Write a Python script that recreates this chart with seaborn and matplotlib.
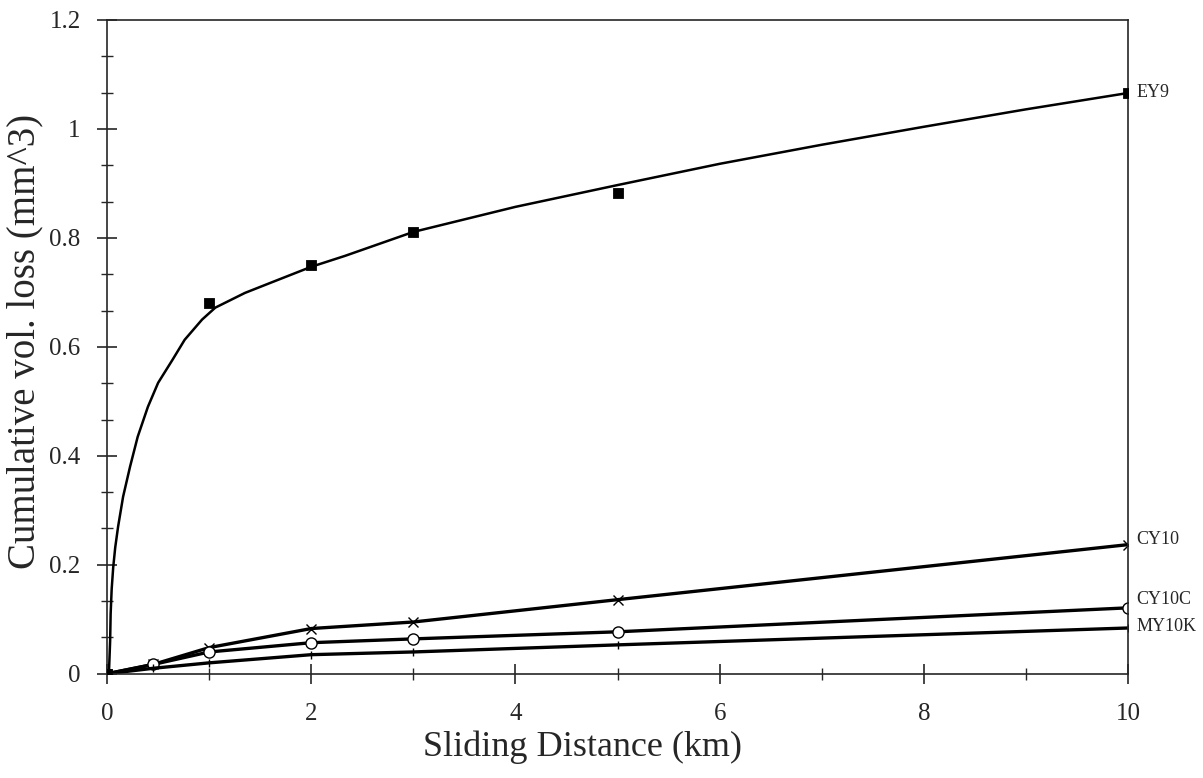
import matplotlib
matplotlib.use('Agg')
import matplotlib.pyplot as plt
import seaborn as sns
from matplotlib.ticker import AutoMinorLocator, FuncFormatter, MultipleLocator

# measured points
dist = [0, 0.45, 1, 2, 3, 5, 10]
ey9_x = [0, 1, 2, 3, 5, 10]
ey9_y = [0, 0.681, 0.750, 0.811, 0.883, 1.066]
cy10_y = [0, 0.017, 0.048, 0.083, 0.095, 0.136, 0.237]
cy10c_y = [0, 0.017, 0.040, 0.057, 0.064, 0.077, 0.121]
my10k_y = [0, 0.010, 0.020, 0.035, 0.040, 0.053, 0.084]

# fitted curve for EY9
ey9_fit_x = [0, 0.02, 0.03, 0.035, 0.045, 0.06, 0.08, 0.108, 0.157, 0.225, 0.30, 0.40, 0.50,
             0.64, 0.76, 0.93, 1.06, 1.35, 1.62, 2.0, 2.33, 3, 4, 5, 6, 7, 8, 9, 10]
ey9_fit_y = [0, 0.01, 0.06, 0.11, 0.155, 0.195, 0.232, 0.270, 0.325, 0.380, 0.435, 0.490, 0.534,
             0.576, 0.613, 0.650, 0.672, 0.699, 0.719, 0.747, 0.767, 0.811, 0.857, 0.897, 0.936,
             0.971, 1.004, 1.036, 1.066]

series_names = ['EY9', 'CY10', 'CY10C', 'MY10K']
label_y = [1.066, 0.246, 0.136, 0.086]

sns.set_style('ticks')
plt.rcParams['font.family'] = ['Liberation Serif', 'DejaVu Serif']

fig = plt.figure(figsize=(12.03, 7.78), dpi=100)
ax = fig.add_axes([0.089, 0.134, 0.8487, 0.8403])

sns.lineplot(x=ey9_fit_x, y=ey9_fit_y, ax=ax, color='black', lw=1.8, sort=False, estimator=None)
sns.scatterplot(x=ey9_x, y=ey9_y, ax=ax, color='black', marker='s', s=55, edgecolor='black', zorder=5)

sns.lineplot(x=dist, y=cy10_y, ax=ax, color='black', lw=2.4, marker='x', markersize=7,
             markeredgecolor='black', markeredgewidth=1.0, estimator=None)
sns.lineplot(x=dist, y=cy10c_y, ax=ax, color='black', lw=2.4, marker='o', markersize=8,
             markerfacecolor='white', markeredgecolor='black', markeredgewidth=1.0, estimator=None)
sns.lineplot(x=dist, y=my10k_y, ax=ax, color='black', lw=2.4, marker='|', markersize=6,
             markeredgecolor='black', markeredgewidth=1.0, estimator=None)

for name, yv in zip(series_names, label_y):
    ax.text(10.08, yv, name, fontsize=13, va='center', ha='left')

ax.set_xlim(0, 10)
ax.set_ylim(0, 1.2)
ax.xaxis.set_major_locator(MultipleLocator(2))
ax.xaxis.set_minor_locator(AutoMinorLocator(2))
ax.yaxis.set_major_locator(MultipleLocator(0.2))
ax.yaxis.set_minor_locator(AutoMinorLocator(3))
ax.yaxis.set_major_formatter(FuncFormatter(lambda v, p: f'{v:g}'))
ax.tick_params(which='major', direction='inout', length=14, width=1.2, labelsize=18)
ax.tick_params(which='minor', direction='inout', length=8, width=1.0)
ax.tick_params(axis='x', which='major', pad=14)
ax.tick_params(axis='y', which='major', pad=12)
for s in ax.spines.values():
    s.set_linewidth(1.2)
    s.set_visible(True)

ax.set_xlabel('Sliding Distance (km)', fontsize=26)
ax.set_ylabel('Cumulative vol. loss (mm^3)', fontsize=28)
ax.xaxis.set_label_coords(0.466, -0.087)
ax.yaxis.set_label_coords(-0.062, 0.508)

fig.savefig('out.png', dpi=100)
